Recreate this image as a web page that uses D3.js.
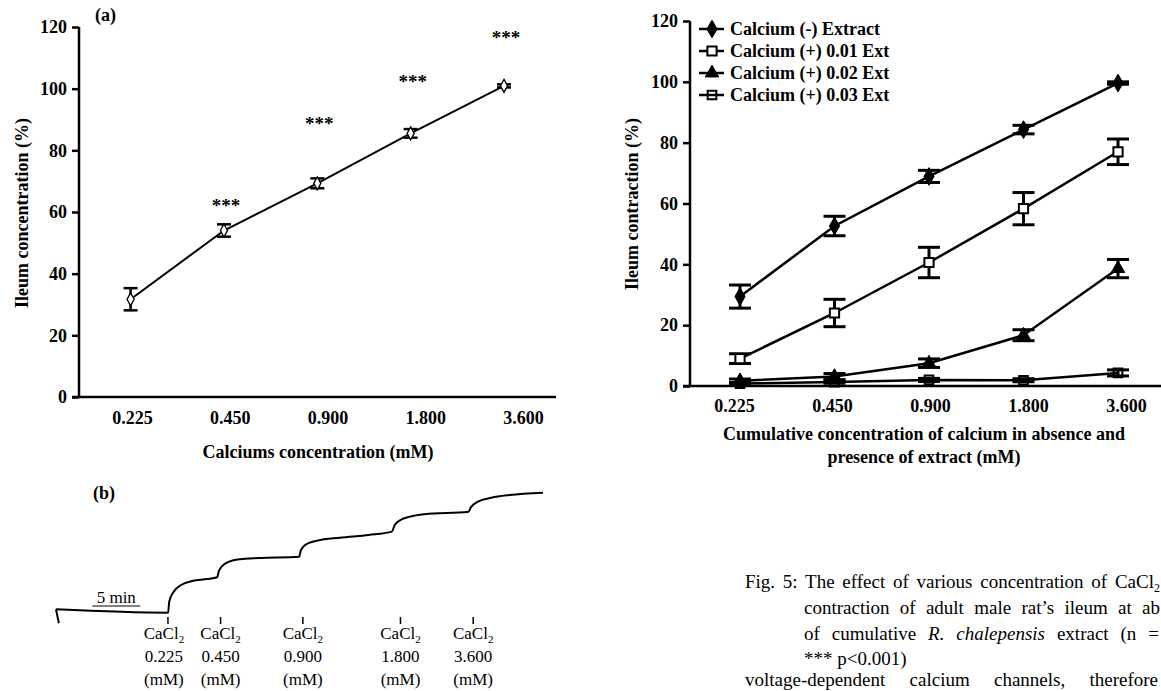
<!DOCTYPE html>
<html>
<head>
<meta charset="UTF-8" />
<style>
  body { margin: 0; background: #fff; }
  svg text { font-family: "Liberation Serif", "Times New Roman", serif; fill: #000; }
  .axis path, .axis line { stroke: #000; stroke-width: 2.5; }
  .axis text { font-size: 18px; font-weight: bold; }
</style>
</head>
<body>
<svg id="fig" width="1161" height="691"></svg>
<script src="https://d3js.org/d3.v7.min.js"></script>
<script>
// concentrations on both x axes (mM)
const concLabels = ["0.225", "0.450", "0.900", "1.800", "3.600"];
const yTicks = [0, 20, 40, 60, 80, 100, 120];

// panel (a) : mean +/- error, and height of the *** marks
const aMean = [31.7, 54.0, 69.3, 85.5, 100.9];
const aErr = [3.6, 2.0, 1.6, 1.4, 0.5];
const aStars = [null, 63.7, 90.2, 103.7, 117.9];

// right panel : four series
const seriesNames = ["Calcium (-) Extract", "Calcium (+) 0.01 Ext", "Calcium (+) 0.02 Ext", "Calcium (+) 0.03 Ext"];
const seriesSymbols = ["diamond", "square", "triangle", "squareLine"];
const ctrlMean = [29.4, 52.6, 68.9, 84.3, 99.6];
const ctrlErr = [3.8, 3.2, 2.0, 1.4, 0.4];
const ext01Mean = [9.0, 24.0, 40.6, 58.3, 77.0];
const ext01Err = [1.6, 4.5, 5.0, 5.3, 4.2];
const ext02Mean = [1.7, 3.1, 7.5, 16.7, 38.6];
const ext02Err = [0.6, 1.0, 1.4, 1.8, 3.0];
const ext03Mean = [0.8, 1.3, 2.0, 1.9, 4.3];
const ext03Err = [0.3, 0.4, 0.5, 0.5, 1.0];

// panel (b) : recorded trace, time (min) and response (% of max)
const traceTime = [0, 11.72, 11.83, 12.3, 13.07, 14.23, 15.77, 16.85, 17.0, 17.3, 18.1, 19.2, 21.2, 25.4,
  25.6, 26.2, 27.3, 29.65, 32.7, 35.1, 35.4, 36.0, 37.0, 38.5, 43.1, 43.35, 44.1, 45.5, 47.4, 50.9];
const traceResp = [3.1, 0.3, 9.4, 17.8, 23.3, 26.7, 28.3, 29.8, 34.4, 38.6, 42.8, 44.8, 45.8, 46.9,
  52.5, 57.5, 60.3, 62.8, 65.0, 67.8, 73.3, 77.5, 80.3, 82.3, 84.4, 88.0, 92.8, 96.0, 98.3, 100.3];
const hookTime = [0.3, 0];
const hookResp = [-8.6, 3.1];
const doseTime = [11.7, 17.2, 25.8, 36.0, 43.6];
const doseLabelShift = [-4, 0, 0, 0, 0];
const scaleBarMin = [3.8, 8.8];

// caption lines ("|" toggles italic, "_" toggles subscript); right = justify edge
const captionLines = [
  {text: "Fig. 5: The effect of various concentration of CaCl_2_", x: 745, y: 588, right: 1160},
  {text: "contraction of adult male rat\u2019s ileum at ab", x: 804, y: 614, right: 1160},
  {text: "of cumulative |R. chalepensis| extract (n =", x: 804, y: 640, right: 1159},
  {text: "*** p<0.001)", x: 804, y: 665, right: null},
  {text: "voltage-dependent calcium channels, therefore", x: 745, y: 686, right: 1158}
];

const svg = d3.select("#fig");

function symbolPath(kind, size) {
  const t = {diamond: d3.symbolDiamond, square: d3.symbolSquare, triangle: d3.symbolTriangle, squareLine: d3.symbolSquare}[kind];
  return d3.symbol().type(t).size(size)();
}

// ---------------- panel (a) ----------------
const ya = d3.scaleLinear().domain([0, 120]).range([397, 27]);
const xaPts = d3.scalePoint().domain(concLabels).range([130.6, 504]);
const xaLab = d3.scalePoint().domain(concLabels).range([132, 523]);
const axA = 79;

svg.append("g").attr("class", "axis")
  .attr("transform", `translate(${axA},0)`)
  .call(d3.axisLeft(ya).tickValues(yTicks).tickSize(7).tickSizeOuter(0).tickPadding(5))
  .call(g => g.select(".domain").attr("d", `M0,${ya(120)}V${ya(0)}`));

svg.append("line").attr("x1", axA - 7).attr("x2", 556)
  .attr("y1", ya(0)).attr("y2", ya(0)).attr("stroke", "#000").attr("stroke-width", 2.5);

svg.append("g").attr("class", "axis")
  .attr("transform", `translate(0,${ya(0)})`)
  .call(d3.axisBottom(xaLab).tickSize(0).tickPadding(14))
  .call(g => g.select(".domain").remove());

const aData = concLabels.map((c, i) => ({c, m: aMean[i], e: aErr[i], s: aStars[i]}));

svg.append("path").datum(aData)
  .attr("fill", "none").attr("stroke", "#000").attr("stroke-width", 2)
  .attr("d", d3.line().x(d => xaPts(d.c)).y(d => ya(d.m)));

const aErrG = svg.append("g").attr("stroke", "#000").attr("stroke-width", 2.5);
aData.forEach(d => {
  const x = xaPts(d.c);
  aErrG.append("line").attr("x1", x).attr("x2", x).attr("y1", ya(d.m - d.e)).attr("y2", ya(d.m + d.e));
  [d.m - d.e, d.m + d.e].forEach(v => aErrG.append("line")
    .attr("x1", x - 7).attr("x2", x + 7).attr("y1", ya(v)).attr("y2", ya(v)));
});

svg.append("g").selectAll("path").data(aData).join("path")
  .attr("transform", d => `translate(${xaPts(d.c)},${ya(d.m)}) scale(0.85,0.9)`)
  .attr("d", symbolPath("diamond", 60))
  .attr("fill", "#fff").attr("stroke", "#000").attr("stroke-width", 1.6);

svg.append("g").selectAll("text").data(aData.filter(d => d.s !== null)).join("text")
  .attr("x", d => xaPts(d.c) + 2).attr("y", d => ya(d.s) + 11)
  .attr("text-anchor", "middle").attr("font-size", 19).attr("font-weight", "bold")
  .text("***");

svg.append("text").attr("x", 95).attr("y", 21).attr("font-size", 18).attr("font-weight", "bold").text("(a)");

svg.append("text").attr("transform", "translate(28,213) rotate(-90)")
  .attr("text-anchor", "middle").attr("font-size", 18).attr("font-weight", "bold")
  .text("Ileum concentration (%)");

svg.append("text").attr("x", 318).attr("y", 458)
  .attr("text-anchor", "middle").attr("font-size", 18).attr("font-weight", "bold")
  .text("Calciums concentration (mM)");

// ---------------- right panel ----------------
const yb = d3.scaleLinear().domain([0, 120]).range([386, 21]);
const xbPts = d3.scalePoint().domain(concLabels).range([740, 1118]);
const xbLab = d3.scalePoint().domain(concLabels).range([734, 1126]);
const axB = 690;

svg.append("g").attr("class", "axis")
  .attr("transform", `translate(${axB},0)`)
  .call(d3.axisLeft(yb).tickValues(yTicks).tickSize(7).tickSizeOuter(0).tickPadding(5))
  .call(g => g.select(".domain").attr("d", `M0,${yb(120)}V${yb(0)}`));

svg.append("line").attr("x1", axB - 7).attr("x2", 1161)
  .attr("y1", yb(0)).attr("y2", yb(0)).attr("stroke", "#000").attr("stroke-width", 2.5);

svg.append("g").attr("class", "axis")
  .attr("transform", `translate(0,${yb(0)})`)
  .call(d3.axisBottom(xbLab).tickSize(0).tickPadding(13))
  .call(g => g.select(".domain").remove());

const means = [ctrlMean, ext01Mean, ext02Mean, ext03Mean];
const errs = [ctrlErr, ext01Err, ext02Err, ext03Err];
const series = seriesNames.map((name, k) => ({
  name, sym: seriesSymbols[k],
  pts: concLabels.map((c, i) => ({c, m: means[k][i], e: errs[k][i]}))
}));

function markerAttrs(sel, sym) {
  const sizes = {diamond: 90, square: 85, triangle: 80, squareLine: 75};
  sel.attr("d", symbolPath(sym, sizes[sym]))
    .attr("fill", sym === "square" ? "#fff" : sym === "squareLine" ? "none" : "#000")
    .attr("stroke", "#000").attr("stroke-width", sym === "square" || sym === "squareLine" ? 2 : 1);
}

// draw in reverse so the control series sits on top
series.slice().reverse().forEach(s => {
  svg.append("path").datum(s.pts)
    .attr("fill", "none").attr("stroke", "#000").attr("stroke-width", 2.5)
    .attr("d", d3.line().x(d => xbPts(d.c)).y(d => yb(d.m)));
  const g = svg.append("g").attr("stroke", "#000").attr("stroke-width", 3);
  s.pts.forEach(d => {
    const x = xbPts(d.c);
    g.append("line").attr("x1", x).attr("x2", x).attr("y1", yb(d.m - d.e)).attr("y2", yb(d.m + d.e));
    [d.m - d.e, d.m + d.e].forEach(v => g.append("line")
      .attr("x1", x - 11).attr("x2", x + 11).attr("y1", yb(v)).attr("y2", yb(v)));
  });
  svg.append("g").selectAll("path").data(s.pts).join("path")
    .attr("transform", d => `translate(${xbPts(d.c)},${yb(d.m)})`)
    .call(markerAttrs, s.sym);
});

// legend
const leg = svg.append("g").attr("transform", "translate(699,29)");
series.forEach((s, k) => {
  const row = leg.append("g").attr("transform", `translate(0,${k * 22})`);
  row.append("line").attr("x1", 0).attr("x2", 25).attr("stroke", "#000").attr("stroke-width", 2.5);
  row.append("path").attr("transform", "translate(13,0)").call(markerAttrs, s.sym);
  row.append("text").attr("x", 31).attr("y", 6).attr("font-size", 18).attr("font-weight", "bold").text(s.name);
});

svg.append("text").attr("transform", "translate(638,204) rotate(-90)")
  .attr("text-anchor", "middle").attr("font-size", 18).attr("font-weight", "bold")
  .text("Ileum contraction (%)");

const xbTitle = svg.append("text").attr("text-anchor", "middle").attr("font-size", 18).attr("font-weight", "bold");
xbTitle.append("tspan").attr("x", 924).attr("y", 440).text("Cumulative concentration of calcium in absence and");
xbTitle.append("tspan").attr("x", 924).attr("y", 463).text("presence of extract (mM)");

// ---------------- panel (b) : trace ----------------
const xt = d3.scaleLinear().domain([0, 51]).range([56, 544]);
const yr = d3.scaleLinear().domain([0, 100]).range([613, 493]);

svg.append("text").attr("x", 93).attr("y", 499).attr("font-size", 18).attr("font-weight", "bold").text("(b)");

svg.append("path")
  .datum(traceTime.map((t, i) => [t, traceResp[i]]))
  .attr("fill", "none").attr("stroke", "#000").attr("stroke-width", 2)
  .attr("d", d3.line().x(d => xt(d[0])).y(d => yr(d[1])).curve(d3.curveMonotoneX));

svg.append("path")
  .datum(hookTime.map((t, i) => [t, hookResp[i]]))
  .attr("fill", "none").attr("stroke", "#000").attr("stroke-width", 2)
  .attr("d", d3.line().x(d => xt(d[0])).y(d => yr(d[1])));

svg.append("text").attr("x", (xt(scaleBarMin[0]) + xt(scaleBarMin[1])) / 2).attr("y", 603)
  .attr("text-anchor", "middle").attr("font-size", 17).text("5 min");
svg.append("line").attr("x1", xt(scaleBarMin[0])).attr("x2", xt(scaleBarMin[1]))
  .attr("y1", 606).attr("y2", 606).attr("stroke", "#000").attr("stroke-width", 1.2);

const doses = svg.append("g").selectAll("g").data(doseTime).join("g")
  .attr("transform", d => `translate(${xt(d)},0)`);
doses.append("line").attr("y1", 617).attr("y2", 624).attr("stroke", "#000").attr("stroke-width", 1.5);
const dl = doses.append("text").attr("text-anchor", "middle").attr("font-size", 17);
dl.append("tspan").attr("x", (d, i) => doseLabelShift[i]).attr("y", 639).text("CaCl");
dl.append("tspan").attr("font-size", 11).attr("dy", 4).text("2");
doses.append("text").attr("text-anchor", "middle").attr("font-size", 17)
  .attr("x", (d, i) => doseLabelShift[i]).attr("y", 662)
  .text((d, i) => concLabels[i]);
doses.append("text").attr("text-anchor", "middle").attr("font-size", 17)
  .attr("x", (d, i) => doseLabelShift[i]).attr("y", 685)
  .text("(mM)");

// ---------------- caption (justified lines) ----------------
captionLines.forEach(l => {
  const t = svg.append("text").attr("x", l.x).attr("y", l.y)
    .attr("font-size", 19).attr("fill", "#111");
  l.text.split("|").forEach((part, i) => {
    part.split("_").forEach((bit, j) => {
      if (!bit) return;
      const sp = t.append("tspan").attr("font-style", i % 2 ? "italic" : "normal").text(bit);
      if (j % 2) sp.attr("font-size", 12).attr("dy", 4);
    });
  });
  if (l.right) {
    const gaps = (l.text.match(/ /g) || []).length;
    const extra = (l.right - l.x - t.node().getComputedTextLength()) / gaps;
    t.style("word-spacing", extra + "px");
  }
});
</script>
</body>
</html>
